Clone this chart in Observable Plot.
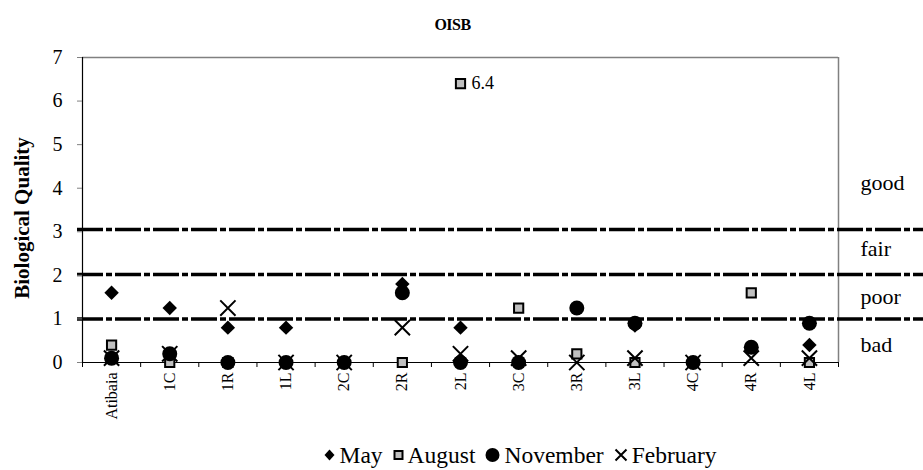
<!DOCTYPE html>
<html>
<head>
<meta charset="utf-8">
<script src="https://cdn.jsdelivr.net/npm/d3@7"></script>
<script src="https://cdn.jsdelivr.net/npm/@observablehq/plot@0.6"></script>
<style>
  html, body { margin: 0; padding: 0; background: #fff; }
  body { width: 923px; height: 470px; overflow: hidden; font-family: "Liberation Serif", "Times New Roman", serif; }
  #title { height: 40px; line-height: 50px; text-align: center; font-family: "Liberation Serif", serif; font-weight: bold; font-size: 16px; letter-spacing: -0.5px; padding-right: 18px; box-sizing: border-box; }
  #legend { height: 30px; display: flex; justify-content: center; align-items: center; font-size: 23.5px; padding-left: 118px; box-sizing: border-box; }
  #legend .item { display: flex; align-items: center; margin: 0 5px; }
  #legend svg { margin-right: 4px; }
</style>
</head>
<body>
<div id="title">OISB</div>
<div id="chart"></div>
<div id="legend"></div>
<script>
const categories = ["Atibaia","1C","1R","1L","2C","2R","2L","3C","3R","3L","4C","4R","4L"];
const may      = [1.6, 1.25, 0.8, 0.8, 0, 1.8, 0.8, 0, null, 0.85, 0, null, 0.4];
const august   = [0.4, 0, 0, 0, 0, 0, 6.4, 1.25, 0.2, 0, 0, 1.6, 0];
const november = [0.1, 0.2, 0, 0, 0, 1.6, 0, 0, 1.25, 0.9, 0, 0.35, 0.9];
const february = [0.1, 0.2, 1.25, 0, 0, 0.8, 0.2, 0.1, 0, 0.1, 0, 0.1, 0.1];
const seriesNames = ["May", "August", "November", "February"];
const yTicks = [0, 1, 2, 3, 4, 5, 6, 7];
const thresholds = [3.05, 2.02, 1];
const zoneLabels = ["good", "fair", "poor", "bad"];
const zoneLabelY = [4.13, 2.6, 1.5, 0.4];

const serif = "'Liberation Serif', 'Times New Roman', serif";
const toPoints = (vals) => vals.map((v, i) => ({i, v})).filter(d => d.v != null);
const pos = {x: d => d.i + 0.5, y: "v"};

const chart = Plot.plot({
  width: 923,
  height: 400,
  marginTop: 17,
  marginBottom: 78,
  marginLeft: 82,
  marginRight: 85,
  style: {fontFamily: serif, background: "white", color: "black"},
  x: {type: "linear", domain: [0, categories.length]},
  y: {domain: [0, 7]},
  marks: [
    Plot.ruleY([7], {stroke: "#808080", strokeWidth: 1.5}),
    Plot.ruleX([categories.length], {stroke: "#808080", strokeWidth: 1.5}),
    Plot.ruleY(thresholds, {stroke: "black", strokeWidth: 3.5, strokeDasharray: "26,3,6,3", insetLeft: -5, insetRight: -85}),
    Plot.ruleX([0], {stroke: "black", strokeWidth: 1.2}),
    Plot.ruleY([0], {stroke: "black", strokeWidth: 1.2}),
    Plot.axisY(yTicks, {label: null, tickSize: 5, tickPadding: 15, fontSize: 20, fontFamily: serif, stroke: "#808080"}),
    Plot.axisX(d3.range(categories.length + 1), {label: null, tickSize: 5, tickFormat: () => "", stroke: "black"}),
    Plot.text(categories, {x: (d, i) => i + 0.5, y: () => 0, text: d => d, rotate: -90, textAnchor: "end", dy: 10, fontSize: 16, fontFamily: serif}),
    Plot.text(["Biological Quality"], {frameAnchor: "left", textAnchor: "middle", rotate: -90, dx: -60, dy: 8, fontWeight: "bold", fontSize: 21, fontFamily: serif, style: "letter-spacing: 0.6px"}),
    Plot.text(zoneLabels, {y: (d, i) => zoneLabelY[i], text: d => d, frameAnchor: "right", dx: 22, textAnchor: "start", fontSize: 22, fontFamily: serif}),
    Plot.dot(toPoints(may), {...pos, symbol: "diamond2", r: 6.5, fill: "black", stroke: "none"}),
    Plot.dot(toPoints(august), {...pos, symbol: "square", r: 5.2, fill: "#c0c0c0", stroke: "black", strokeWidth: 2}),
    Plot.dot(toPoints(november), {...pos, symbol: "circle", r: 7.5, fill: "black", stroke: "none"}),
    Plot.dot(toPoints(february), {...pos, symbol: "times", r: 7, stroke: "black", strokeWidth: 2}),
    Plot.text(toPoints(august).filter(d => d.v > 3.5), {...pos, text: d => d.v.toFixed(1), dx: 11, textAnchor: "start", fontSize: 18, fontFamily: serif})
  ]
});
document.getElementById("chart").appendChild(chart);

// Legend
const legend = document.getElementById("legend");
const symbolsSvg = {
  May: '<svg width="11" height="14" viewBox="-5.5 -7 11 14"><path d="M0,-5.5L5,0L0,5.5L-5,0Z" fill="black"/></svg>',
  August: '<svg width="11" height="14" viewBox="-5.5 -7 11 14"><rect x="-4" y="-4" width="8" height="8" fill="#c0c0c0" stroke="black" stroke-width="2"/></svg>',
  November: '<svg width="15" height="16" viewBox="-7.5 -8 15 16"><circle r="7" fill="black"/></svg>',
  February: '<svg width="14" height="16" viewBox="-7 -8 14 16"><path d="M-5.5,-5.5L5.5,5.5M-5.5,5.5L5.5,-5.5" stroke="black" stroke-width="2"/></svg>'
};
for (const name of seriesNames) {
  const item = document.createElement("span");
  item.className = "item";
  item.innerHTML = symbolsSvg[name] + "<span>" + name + "</span>";
  legend.appendChild(item);
}
</script>
</body>
</html>
